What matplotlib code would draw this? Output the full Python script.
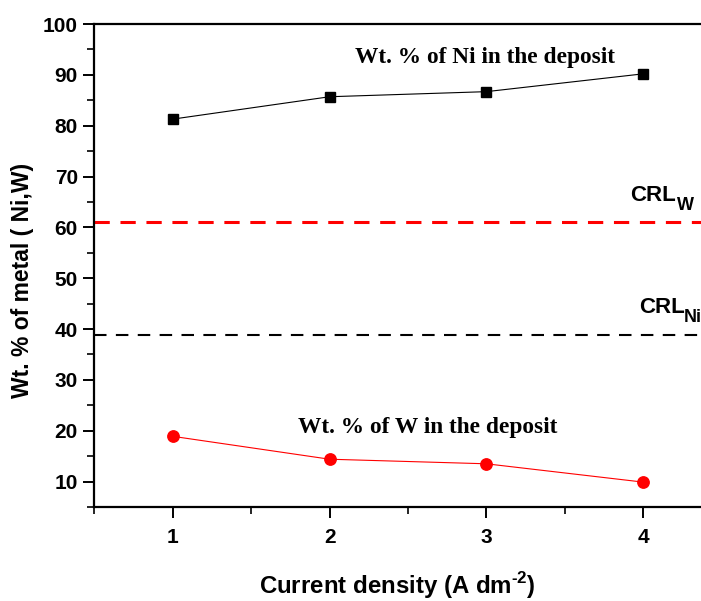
import matplotlib
matplotlib.use("Agg")
import matplotlib.pyplot as plt
from matplotlib.ticker import MultipleLocator

current_density = [1, 2, 3, 4]
ni_wt = [81.3, 85.7, 86.7, 90.2]
w_wt = [18.9, 14.4, 13.5, 9.9]
crl_w = 61.1
crl_ni = 38.9

plt.rcParams['mathtext.fontset'] = 'custom'
plt.rcParams['mathtext.bf'] = 'Liberation Sans:bold'

fig = plt.figure(figsize=(7.01, 6.01), dpi=100)
ax = fig.add_axes([0.1348, 0.1564, 0.8652, 0.8036])

ax.plot(current_density, ni_wt, color='black', lw=0.8, marker='s', ms=7.5,
        mfc='black', mec='black')
ax.plot(current_density, w_wt, color='red', lw=0.8, marker='o', ms=8.2,
        mfc='red', mec='red')
ax.axhline(crl_w, color='red', lw=2.2, ls=(0, (5, 3.5)))
ax.axhline(crl_ni, color='black', lw=1.5, ls=(0, (6, 4.5)))

ax.set_xlim(0.5, 4.37)
ax.set_ylim(5, 100)
ax.xaxis.set_major_locator(MultipleLocator(1))
ax.xaxis.set_minor_locator(MultipleLocator(0.5))
ax.yaxis.set_major_locator(MultipleLocator(10))
ax.yaxis.set_minor_locator(MultipleLocator(5))
ax.set_yticks([10, 20, 30, 40, 50, 60, 70, 80, 90, 100])

for s in ['left', 'bottom', 'top']:
    ax.spines[s].set_linewidth(1.6)
ax.spines['right'].set_visible(False)
ax.tick_params(which='major', direction='out', length=8, width=1.4,
               labelsize=15, top=False)
ax.tick_params(axis='y', which='major', pad=4)
ax.tick_params(axis='x', which='major', pad=7)
ax.tick_params(which='minor', direction='out', length=5, width=1.2, top=False)
for lab in ax.get_xticklabels() + ax.get_yticklabels():
    lab.set_fontfamily('Liberation Sans')
    lab.set_fontweight('bold')

ax.set_xlabel('Current density (A dm$^{\\mathbf{\u2010}\\mathbf{2}}$)', fontsize=17.3,
              fontweight='bold', family='Liberation Sans', labelpad=17)
ax.set_ylabel('Wt. % of metal ( Ni,W)', fontsize=16.5, fontweight='bold',
              family='Liberation Sans')
ax.yaxis.set_label_coords(-0.1, 0.47)

ax.text(2.16, 92.3, 'Wt. % of Ni in the deposit', fontsize=16.8, fontweight='bold',
        family='Liberation Serif', va='baseline', ha='left')
ax.text(1.80, 19.5, 'Wt. % of W in the deposit', fontsize=16.8, fontweight='bold',
        family='Liberation Serif', va='baseline', ha='left')

def crl(x, y, sub, dx):
    ax.text(x, y, 'CRL', fontsize=16, fontweight='bold',
            family='Liberation Sans', va='baseline', ha='left')
    ax.annotate(sub, xy=(x, y), xycoords='data', xytext=(dx, -6.5),
                textcoords='offset points', fontsize=13, fontweight='bold',
                family='Liberation Sans', va='baseline', ha='left',
                annotation_clip=False)

crl(3.92, 65.2, 'W', 33.5)
crl(3.972, 43.2, 'Ni', 32.5)

fig.savefig('out.png', dpi=100)
